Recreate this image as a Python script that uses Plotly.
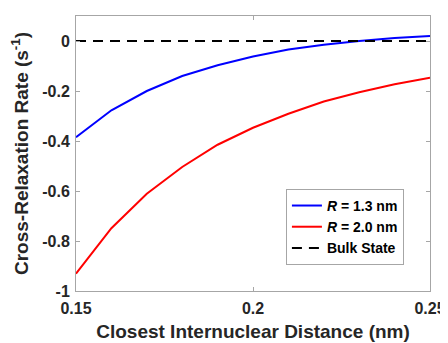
import plotly.graph_objects as go

distance = [0.15, 0.16, 0.17, 0.18, 0.19, 0.20, 0.21, 0.22, 0.23, 0.24, 0.25]
rate_r13 = [-0.385, -0.277, -0.200, -0.140, -0.097, -0.062, -0.034, -0.015, 0.000, 0.012, 0.020]
rate_r20 = [-0.931, -0.749, -0.611, -0.504, -0.415, -0.347, -0.291, -0.242, -0.205, -0.173, -0.147]
bulk_x = [0.15, 0.25]
bulk_y = [0.0, 0.0]

y_ticks = [-1, -0.8, -0.6, -0.4, -0.2, 0]
y_tick_labels = ["-1", "-0.8", "-0.6", "-0.4", "-0.2", "0"]
x_ticks = [0.15, 0.2, 0.25]
x_tick_labels = ["0.15", "0.2", "0.25"]

font_family = "Liberation Sans, Arial, sans-serif"
text_color = "#262626"

fig = go.Figure()
fig.add_trace(go.Scatter(x=distance, y=rate_r13, mode="lines", name="<b><i>R</i> = 1.3 nm</b>",
                         line=dict(color="#0000ff", width=2)))
fig.add_trace(go.Scatter(x=distance, y=rate_r20, mode="lines", name="<b><i>R</i> = 2.0 nm</b>",
                         line=dict(color="#ff0000", width=2)))
fig.add_trace(go.Scatter(x=bulk_x, y=bulk_y, mode="lines", name="<b>Bulk State</b>",
                         line=dict(color="black", width=2, dash="10px,7px")))

tick_font = dict(family=font_family, size=16, color=text_color, weight="bold")
title_font = dict(family=font_family, size=19, color=text_color)

axis_common = dict(
    showgrid=False, zeroline=False, showline=True, linecolor="#a6a6a6", linewidth=1,
    mirror="ticks", ticks="inside", ticklen=4, tickcolor="#a6a6a6", tickwidth=1,
    tickfont=tick_font, automargin=False,
)

# page body has ~8px default margin; compensate so the plot lands where the reference has it
fig.update_layout(
    width=440, height=336,
    margin=dict(l=68, r=18, t=8, b=53),
    paper_bgcolor="white", plot_bgcolor="white",
    font=dict(family=font_family, color=text_color),
    xaxis=dict(range=[0.15, 0.25], tickvals=x_ticks, ticktext=x_tick_labels,
               ticklabelstandoff=3,
               title=dict(text="<b>Closest Internuclear Distance (nm)</b>",
                          font=title_font, standoff=8),
               **axis_common),
    yaxis=dict(range=[-1, 0.1], tickvals=y_ticks, ticktext=y_tick_labels,
               ticklabelstandoff=2,
               title=dict(text="<b>Cross-Relaxation Rate (s<sup>-1</sup>)</b>",
                          font=title_font, standoff=9),
               **axis_common),
    legend=dict(x=0.593, y=0.233, xanchor="left", yanchor="middle",
                bgcolor="white", bordercolor="#a6a6a6", borderwidth=1,
                font=dict(family=font_family, size=14, color="black"),
                tracegroupgap=0, itemwidth=30),
    showlegend=True,
)

fig.write_html("out.html")
